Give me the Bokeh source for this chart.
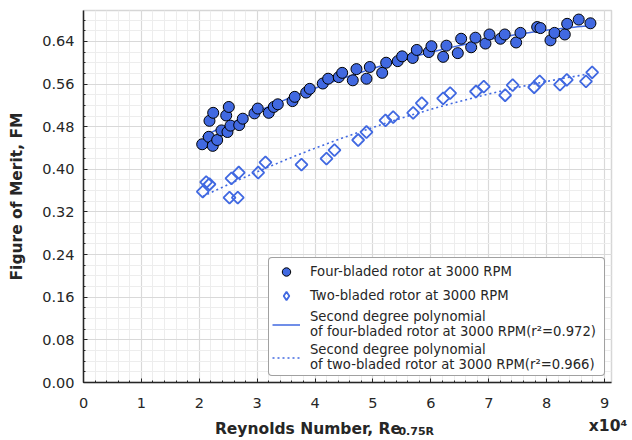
import numpy as np
from bokeh.plotting import figure
from bokeh.models import (FixedTicker, PrintfTickFormatter, Legend, LinearAxis,
                          LegendItem, Range1d)
from bokeh.embed import file_html
from bokeh.resources import INLINE

# ---------------- data (Reynolds number in units of 1e4) ----------------
re_four = [2.05, 2.164, 2.233, 2.309, 2.176, 2.240, 2.383, 2.465, 2.51, 2.487,
           2.539, 2.689, 2.751, 2.953, 3.010, 3.200, 3.287, 3.356, 3.61, 3.649,
           3.846, 3.908, 4.133, 4.226, 4.409, 4.468, 4.651, 4.715, 4.888, 4.945,
           5.159, 5.228, 5.428, 5.504, 5.687, 5.757, 5.964, 6.010, 6.212, 6.269,
           6.465, 6.523, 6.696, 6.770, 6.943, 7.012, 7.202, 7.276, 7.473, 7.547,
           7.836, 7.893, 8.066, 8.135, 8.313, 8.354, 8.554, 8.756]
fm_four = [0.447, 0.461, 0.444, 0.455, 0.491, 0.506, 0.473, 0.501, 0.517, 0.470,
           0.482, 0.483, 0.495, 0.505, 0.514, 0.506, 0.517, 0.522, 0.528, 0.536,
           0.544, 0.551, 0.561, 0.570, 0.573, 0.581, 0.567, 0.588, 0.570, 0.592,
           0.581, 0.600, 0.603, 0.612, 0.609, 0.624, 0.620, 0.631, 0.611, 0.632,
           0.618, 0.645, 0.629, 0.647, 0.636, 0.653, 0.645, 0.653, 0.638, 0.656,
           0.667, 0.665, 0.642, 0.656, 0.653, 0.673, 0.681, 0.674]

re_two = [2.060, 2.119, 2.176, 2.522, 2.665, 2.556, 2.682, 3.017, 3.143, 3.765,
          4.197, 4.335, 4.744, 4.888, 5.216, 5.349, 5.694, 5.843, 6.212, 6.333,
          6.779, 6.914, 7.283, 7.413, 7.784, 7.879, 8.230, 8.348, 8.679, 8.786]
fm_two = [0.358, 0.376, 0.372, 0.347, 0.347, 0.383, 0.394, 0.394, 0.413, 0.409,
          0.420, 0.436, 0.455, 0.470, 0.492, 0.498, 0.506, 0.524, 0.533, 0.543,
          0.546, 0.555, 0.539, 0.558, 0.554, 0.565, 0.559, 0.568, 0.565, 0.582]

x_ticks = [0, 1, 2, 3, 4, 5, 6, 7, 8, 9]
y_ticks = [0.0, 0.08, 0.16, 0.24, 0.32, 0.40, 0.48, 0.56, 0.64]

label_four = "Four-bladed rotor at 3000 RPM"
label_two = "Two-bladed rotor at 3000 RPM"
label_fit_four = "Second degree polynomial\nof four-bladed rotor at 3000 RPM(r\u00b2=0.972)"
label_fit_two = "Second degree polynomial\nof two-bladed rotor at 3000 RPM(r\u00b2=0.966)"
y_title = "Figure of Merit, FM"
x_title = "Reynolds Number, Re"
x_title_sub = "0.75R"
x_scale_text = "x10\u2074"

# second-degree polynomial fits of the data
c4 = np.polyfit(re_four, fm_four, 2)
c2 = np.polyfit(re_two, fm_two, 2)
xf4 = np.linspace(min(re_four), max(re_four), 120)
xf2 = np.linspace(min(re_two), max(re_two), 120)

BLUE = "#4169E1"
DARK = "#262626"
FONT = "DejaVu Sans"

p = figure(width=632, height=440, output_backend="svg", toolbar_location=None,
           x_range=Range1d(0, 9.12), y_range=Range1d(0, 0.698),
           min_border_left=83, min_border_right=21, min_border_top=10,
           min_border_bottom=57)
p.background_fill_color = "white"
p.border_fill_color = "white"
p.outline_line_color = "#d6d6d6"
p.outline_line_width = 1.5

p.xaxis.ticker = FixedTicker(ticks=x_ticks,
                             minor_ticks=[round(v, 2) for v in np.arange(0, 9.13, 0.2)])
p.yaxis.ticker = FixedTicker(ticks=y_ticks,
                             minor_ticks=[round(v, 3) for v in np.arange(0, 0.70, 0.02)])
p.yaxis.formatter = PrintfTickFormatter(format="%.2f")

for g in (p.xgrid, p.ygrid):
    g.grid_line_color = "#d9d9d9"
    g.grid_line_width = 1.2
    g.minor_grid_line_color = "#ededed"
    g.minor_grid_line_width = 1

for ax in (p.xaxis, p.yaxis):
    ax.axis_line_color = DARK
    ax.axis_line_width = 1.5
    ax.major_tick_in = 4
    ax.major_tick_out = 0
    ax.minor_tick_in = 2
    ax.minor_tick_out = 0
    ax.major_tick_line_color = DARK
    ax.minor_tick_line_color = DARK
    ax.major_label_text_font = FONT
    ax.major_label_text_font_size = "14.5px"
    ax.major_label_text_color = DARK
p.yaxis.major_label_standoff = 9
p.xaxis.major_label_standoff = 15

p.yaxis.axis_label = y_title
p.yaxis.axis_label_text_font = FONT
p.yaxis.axis_label_text_font_size = "15.5px"
p.yaxis.axis_label_text_font_style = "bold"
p.yaxis.axis_label_text_color = DARK
p.yaxis.axis_label_standoff = 13


def text_axis(pos, text, size, standoff, style="bold"):
    """An extra bare axis below the plot, used only to carry one text."""
    ax = LinearAxis(ticker=FixedTicker(ticks=[pos], minor_ticks=[]),
                    major_label_overrides={pos: text})
    ax.axis_line_color = None
    ax.major_tick_line_color = None
    ax.minor_tick_line_color = None
    ax.major_tick_in = 0
    ax.major_tick_out = 0
    ax.minor_tick_in = 0
    ax.minor_tick_out = 0
    ax.major_label_standoff = standoff
    ax.major_label_text_font = FONT
    ax.major_label_text_font_size = size
    ax.major_label_text_font_style = style
    ax.major_label_text_color = DARK
    p.add_layout(ax, "below")


text_axis(9.06, x_scale_text, "15.5px", 6)
text_axis(3.877, x_title, "15.5px", -18)
text_axis(5.748, x_title_sub, "11px", -16)

# fits
r_fit4 = p.line(xf4, np.polyval(c4, xf4), line_color=BLUE, line_width=1.5)
r_fit2 = p.line(xf2, np.polyval(c2, xf2), line_color=BLUE, line_width=1.6,
                line_dash="2 3")
# data
r_two = p.scatter(re_two, fm_two, marker="square", angle=np.pi / 4, size=8.5,
                  fill_color=None, line_color=BLUE, line_width=1.8)
r_four = p.scatter(re_four, fm_four, marker="circle", size=11,
                   fill_color=BLUE, line_color="black", line_width=1)
# legend proxy for the diamond symbol (no visible points)
r_two_leg = p.scatter([np.nan], [np.nan], marker="diamond", size=8,
                      fill_color=None, line_color=BLUE, line_width=1.8)

legend = Legend(items=[
    LegendItem(label=label_four, renderers=[r_four]),
    LegendItem(label=label_two, renderers=[r_two_leg]),
    LegendItem(label=label_fit_four, renderers=[r_fit4]),
    LegendItem(label=label_fit_two, renderers=[r_fit2]),
], location="bottom_right")
legend.label_text_font = FONT
legend.label_text_font_size = "13.2px"
legend.label_text_color = DARK
legend.label_text_line_height = 1.6
legend.border_line_color = "#444444"
legend.border_line_width = 1
legend.background_fill_color = "white"
legend.background_fill_alpha = 1
legend.padding = 3
legend.spacing = 3
legend.margin = 6
legend.glyph_width = 28
legend.glyph_height = 21
legend.label_height = 21
legend.label_width = 291
legend.label_standoff = 10
try:
    legend.border_radius = 4
except Exception:
    pass
p.add_layout(legend, "center")

open("out.html", "w").write(file_html(p, INLINE))
